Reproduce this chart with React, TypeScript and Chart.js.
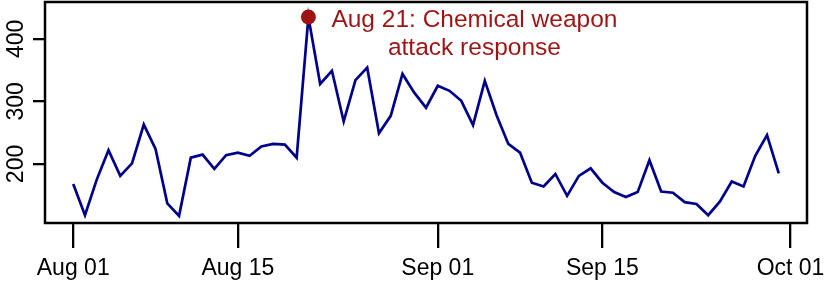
import React, { useEffect, useRef } from "react";
import { Chart, registerables } from "chart.js";

Chart.register(...registerables);

// Daily values, Aug 01 .. Sep 30 (day index 0..60)
const values: number[] = [
  168, 118, 175, 222, 181, 201, 263, 224, 137, 117,
  210, 215, 192, 214, 218, 213, 228, 232, 231, 210,
  435, 328, 349, 268, 334, 354, 249, 277, 344, 314,
  290, 325, 317, 301, 262, 333, 278, 232, 218, 170,
  164, 184, 149, 181, 193, 170, 155, 147, 155, 206,
  156, 154, 139, 136, 118, 140, 172, 164, 213, 246,
  185,
];
const xTickDays: number[] = [0, 14, 31, 45, 61];
const xTickLabels: string[] = ["Aug 01", "Aug 15", "Sep 01", "Sep 15", "Oct 01"];
const yTickValues: number[] = [200, 300, 400];
const eventDay = 20;
const eventValue = 435;
const eventLines: string[] = ["Aug 21: Chemical weapon", "attack response"];

const FONT = "'Liberation Sans', Arial, Helvetica, sans-serif";
const LINE_COLOR = "#00008B";
const RED = "#9E1414";

export default function App() {
  const ref = useRef<HTMLCanvasElement | null>(null);
  useEffect(() => {
    if (!ref.current) return;
    const boxPlugin = {
      id: "rbox",
      afterDraw(chart: any) {
        const { ctx, chartArea, scales } = chart;
        ctx.save();
        ctx.strokeStyle = "#000";
        ctx.lineWidth = 2.5;
        ctx.strokeRect(chartArea.left, chartArea.top, chartArea.right - chartArea.left, chartArea.bottom - chartArea.top);
        // rotated y labels
        ctx.fillStyle = "#000";
        ctx.font = `23px ${FONT}`;
        ctx.textAlign = "center";
        ctx.textBaseline = "middle";
        yTickValues.forEach((v) => {
          const y = scales.y.getPixelForValue(v);
          ctx.save();
          ctx.translate(17, y);
          ctx.rotate(-Math.PI / 2);
          ctx.fillText(String(v), 0, 0);
          ctx.restore();
        });
        // annotation text
        const px = scales.x.getPixelForValue(eventDay);
        const py = scales.y.getPixelForValue(eventValue);
        ctx.font = `24.5px ${FONT}`;
        ctx.fillStyle = RED;
        ctx.textBaseline = "alphabetic";
        const widths = eventLines.map((l) => ctx.measureText(l).width);
        const bw = Math.max(...widths);
        const left = px + 23;
        eventLines.forEach((l, i) => {
          ctx.fillText(l, left + bw / 2, py + 10 + i * 28.3);
        });
        ctx.restore();
      },
    };
    const chart = new Chart(ref.current, {
      type: "line",
      data: {
        datasets: [
          {
            data: [{ x: eventDay, y: eventValue }],
            showLine: false,
            pointRadius: 7.5,
            pointBackgroundColor: RED,
            pointBorderWidth: 0,
            backgroundColor: RED,
            borderColor: RED,
            clip: false as any,
          },
          {
            data: values.map((v, i) => ({ x: i, y: v })),
            borderColor: LINE_COLOR,
            borderWidth: 2.7,
            pointRadius: 0,
            tension: 0,
            fill: false,
          },
        ],
      },
      options: {
        responsive: false,
        animation: false,
        devicePixelRatio: 1,
        layout: { autoPadding: false, padding: { top: 2, right: 23, left: 0, bottom: 0 } },
        plugins: { legend: { display: false }, tooltip: { enabled: false } },
        scales: {
          x: {
            type: "linear",
            min: -2.4,
            max: 62.4,
            afterBuildTicks: (s: any) => {
              s.ticks = xTickDays.map((v) => ({ value: v }));
            },
            afterFit: (s: any) => {
              s.height = 62;
              s.paddingLeft = 0;
              s.paddingRight = 0;
            },
            border: { display: false },
            grid: {
              drawOnChartArea: false,
              drawTicks: true,
              tickLength: 25,
              tickColor: "#000",
              tickWidth: 2.3,
              lineWidth: 2.3,
              color: "#000",
            },
            ticks: {
              autoSkip: false,
              maxRotation: 0,
              minRotation: 0,
              padding: 7,
              color: "#000",
              font: { size: 23, family: FONT },
              callback: (v: any) => {
                const i = xTickDays.indexOf(Number(v));
                return i >= 0 ? xTickLabels[i] : "";
              },
            },
          },
          y: {
            type: "linear",
            min: 105.6,
            max: 459,
            afterBuildTicks: (s: any) => {
              s.ticks = yTickValues.map((v) => ({ value: v }));
            },
            afterFit: (s: any) => {
              s.width = 45;
              s.paddingTop = 0;
              s.paddingBottom = 0;
            },
            border: { display: false },
            grid: {
              drawOnChartArea: false,
              drawTicks: true,
              tickLength: 12,
              tickColor: "#000",
              tickWidth: 2.3,
              lineWidth: 2.3,
              color: "#000",
            },
            ticks: { display: false },
          },
        },
      },
      plugins: [boxPlugin],
    });
    return () => chart.destroy();
  }, []);
  return (
    <div style={{ position: "fixed", left: 0, top: 0, width: 830, height: 285, background: "#fff" }}>
      <canvas ref={ref} width={830} height={285} style={{ width: 830, height: 285, display: "block" }} />
    </div>
  );
}
